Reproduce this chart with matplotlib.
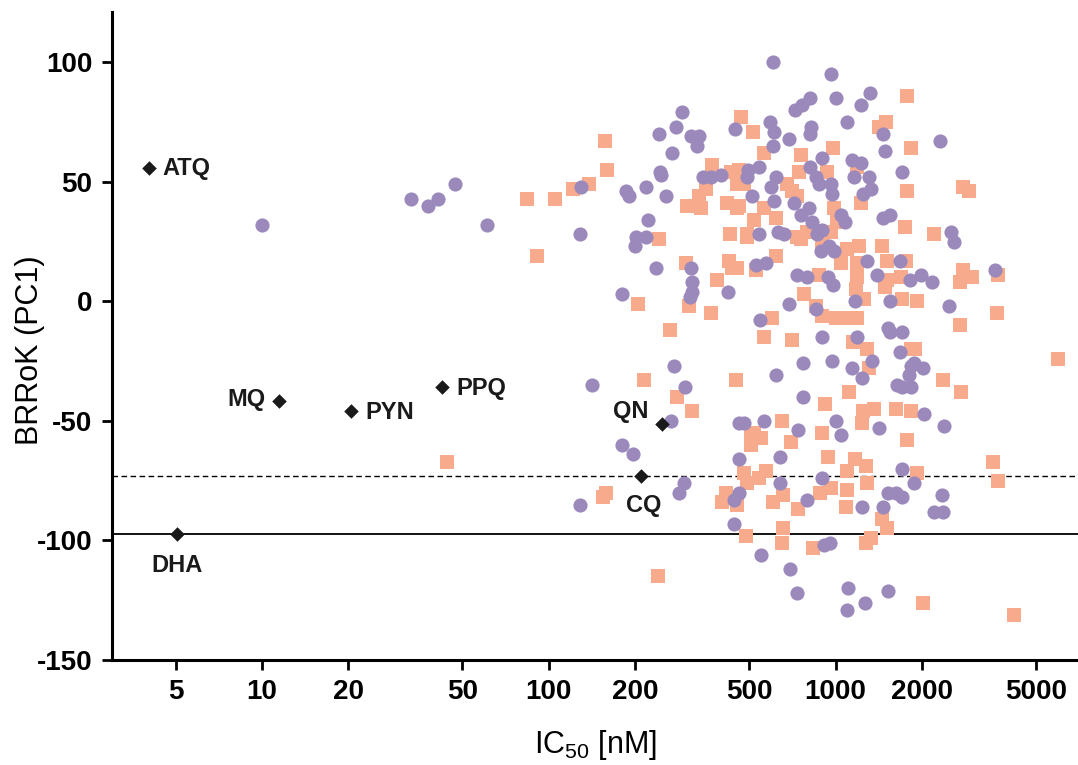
import matplotlib

matplotlib.use("Agg")
import matplotlib.pyplot as plt
from matplotlib.ticker import FixedLocator, NullLocator, FixedFormatter

plt.rcParams["font.family"] = ["Liberation Sans", "DejaVu Sans"]
plt.rcParams["axes.unicode_minus"] = False
plt.rcParams["mathtext.default"] = "regular"

# purple circles
circle_ic50 = [
    130, 292, 278, 243, 314, 335, 329, 269, 447, 245, 247, 346, 369, 399, 186, 191, 219, 257, 222, 128, 202, 219,
    606, 965, 1004, 1320, 1229, 815, 765, 723, 1098, 1465, 1489, 592, 611, 822, 815, 689, 606, 898, 1142, 1229,
    1706, 815, 496, 542, 492, 621, 597, 855, 877, 965, 973, 1160, 1310, 1331, 1248, 512, 611, 717, 809, 759,
    1047, 1081, 830, 898, 862, 1465, 1549, 542, 631, 662,
    2315, 2528,
    199, 237, 314, 316, 316, 311, 422, 180, 274, 142, 299, 267, 461,
    950, 891, 989, 1289, 1680, 528, 573, 734, 796, 942, 981, 1396, 1820, 1170, 1549, 689, 855, 546, 898, 1189,
    1525, 1549, 1706, 1680, 771, 973, 1142, 1342, 1239, 1834, 1805, 1639, 1706, 1834, 621, 771, 480, 564, 740,
    1004, 1419, 1047,
    2590, 1988, 2170, 3600, 2488, 1878, 2019, 2036, 2390,
    180, 196, 128, 285, 297, 443, 443, 461,
    641, 1706, 898, 641, 1878, 461, 796, 1525, 1626, 1706, 1239, 1465, 913, 958, 551, 695, 734, 1107, 1268,
    1098, 1525,
    2352, 2207, 2371,
    33, 38, 41, 47, 61, 10,
]
circle_brrok = [
    48, 79, 73, 70, 69, 69, 65, 62, 72, 54, 53, 52, 52, 53, 46, 44, 48, 44, 34, 28, 27, 27,
    100, 95, 85, 87, 82, 85, 82, 80, 75, 70, 63, 75, 71, 73, 70, 68, 65, 60, 59, 58,
    54, 56, 55, 56, 52, 52, 48, 52, 49, 49, 45, 52, 52, 47, 45, 44, 42, 41, 39, 36,
    36, 33, 33, 30, 28, 35, 36, 28, 29, 28,
    67, 29,
    23, 14, 14, 8, 4, 2, 4, 3, -27, -35, -36, -50, -51,
    23, 21, 21, 17, 17, 15, 16, 11, 10, 10, 7, 11, 9, 0, 0, -1, -3, -8, -15, -15,
    -11, -13, -13, -21, -26, -25, -28, -25, -32, -27, -31, -35, -36, -36, -31, -40, -51, -50, -54,
    -50, -53, -56,
    25, 11, 8, 13, -2, -26, -28, -47, -52,
    -60, -64, -85, -80, -76, -83, -93, -66,
    -65, -70, -74, -76, -76, -80, -83, -80, -80, -82, -86, -86, -102, -101, -106, -112, -122, -120, -126,
    -129, -121,
    -81, -88, -88,
    43, 40, 43, 49, 32, 32,
]

# salmon squares
square_ic50 = [
    157, 160, 138, 121, 105, 372, 433, 352, 335, 304, 340, 419, 454, 454, 243, 429,
    1776, 1500, 1419, 1834, 468, 516, 564, 759, 981, 1189, 747, 935, 461, 1776, 480, 678, 706, 564, 461, 734,
    989, 1229, 1748, 520, 621, 492, 796, 965, 734, 1012,
    2784, 2921, 2207,
    301, 426, 437, 386, 204, 307, 369, 265, 214, 280, 316, 450,
    492, 759, 898, 1098, 1209, 1454, 1047, 1189, 1508, 1762, 454, 621, 528, 877, 1189, 1508, 1694, 1180, 1258,
    1489, 1706, 778, 855, 898, 1004, 1098, 1189, 602, 564, 706, 1151, 1289, 1834, 1310, 1115, 920, 1248, 1365,
    1626, 1834, 652, 1239, 898, 520,
    2784, 2992, 2718, 3686, 1924, 3656, 2718, 1892, 5965, 2371, 2740,
    158, 155, 415, 403, 241,
    508, 551, 508, 700, 1776, 942, 1170, 1278, 480, 573, 542, 492, 1098, 1289, 657, 606, 454, 884, 965, 1098,
    740, 1090, 1454, 1508, 488, 657, 652, 835, 1331, 1278,
    3541, 1924, 3686, 2020, 4191,
    84, 91, 44,
]
square_brrok = [
    67, 55, 49, 47, 43, 57, 54, 47, 44, 40, 39, 41, 49, 39, 26, 28,
    86, 75, 73, 64, 77, 71, 62, 61, 64, 56, 54, 54, 55, 46, 49, 49, 46, 39, 40, 44,
    39, 41, 31, 34, 35, 28, 29, 29, 27, 33,
    48, 46, 28,
    16, 17, 14, 9, -1, -2, -5, -12, -33, -40, -46, -33,
    27, 26, 25, 22, 23, 23, 16, 16, 17, 17, 14, 19, 13, 11, 10, 9, 10, 5, 1,
    6, 1, 3, -2, -6, -7, -7, -7, -7, -15, -16, -17, -20, -20, -28, -38, -43, -46, -45,
    -45, -46, -50, -51, -55, -55,
    13, 10, 8, 11, 0, -5, -10, -20, -24, -33, -38,
    -80, -82, -80, -84, -115,
    -56, -57, -60, -59, -58, -65, -66, -69, -72, -71, -74, -76, -71, -76, -81, -84, -85, -80, -78, -79,
    -87, -86, -91, -95, -98, -95, -101, -103, -99, -101,
    -67, -72, -75, -126, -131,
    43, 19, -67,
]

# reference drugs (black diamonds)
drug_names = ["ATQ", "MQ", "PYN", "PPQ", "QN", "CQ", "DHA"]
drug_ic50 = [4.03, 11.5, 20.5, 42.6, 248, 210, 5.04]
drug_brrok = [55.7, -41.7, -45.9, -35.9, -51.3, -73.1, -97.5]

x_ticks = [5, 10, 20, 50, 100, 200, 500, 1000, 2000, 5000]
y_ticks = [100, 50, 0, -50, -100, -150]

fig = plt.figure(figsize=(10.78, 7.65), dpi=100)
ax = fig.add_axes([112 / 1078, 1 - 660 / 765, 966 / 1078, 648 / 765])

ax.axhline(drug_brrok[drug_names.index("CQ")], color="black", lw=1.0, ls=(0, (4, 2.5)), zorder=1)
ax.axhline(drug_brrok[drug_names.index("DHA")], color="black", lw=1.3, zorder=1)

ax.scatter(square_ic50, square_brrok, marker="s", s=90, color="#f7aa8c", linewidths=0, zorder=2)
ax.scatter(circle_ic50, circle_brrok, marker="o", s=104, color="#9b89bc", linewidths=0, zorder=3)
ax.scatter(drug_ic50, drug_brrok, marker="D", s=55, color="#1a1a1a", linewidths=0, zorder=4)

# label offsets in points, alignment
label_pos = {
    "ATQ": ((10, 0), "left", "center"),
    "MQ": ((-10, 1), "right", "center"),
    "PYN": ((10, -1), "left", "center"),
    "PPQ": ((10, -1), "left", "center"),
    "QN": ((-10, 9), "right", "center"),
    "CQ": ((2, -21), "center", "center"),
    "DHA": ((0, -22), "center", "center"),
}
for name, xv, yv in zip(drug_names, drug_ic50, drug_brrok):
    off, ha, va = label_pos[name]
    ax.annotate(name, (xv, yv), xytext=off, textcoords="offset points",
                ha=ha, va=va, fontsize=17, fontweight="bold", color="#1a1a1a")

ax.set_xscale("log")
ax.set_xlim(3.0, 7000)
ax.set_ylim(-150, 121)
ax.xaxis.set_major_locator(FixedLocator(x_ticks))
ax.xaxis.set_major_formatter(FixedFormatter([str(t) for t in x_ticks]))
ax.xaxis.set_minor_locator(NullLocator())
ax.set_yticks(y_ticks)

for side in ("top", "right"):
    ax.spines[side].set_visible(False)
for side in ("left", "bottom"):
    ax.spines[side].set_linewidth(2.2)
ax.tick_params(axis="both", direction="out", length=7, width=2.0, labelsize=20, pad=7)
for lab in ax.get_xticklabels() + ax.get_yticklabels():
    lab.set_fontweight("bold")

fig.text(30 / 1078, 1 - 350 / 765, "BRRoK (PC1)", rotation=90, ha="center", va="center", fontsize=22)
fig.text(596 / 1078, 1 - 745 / 765, "IC$_{50}$ [nM]", ha="center", va="center", fontsize=22)

fig.savefig("out.png", dpi=100)
